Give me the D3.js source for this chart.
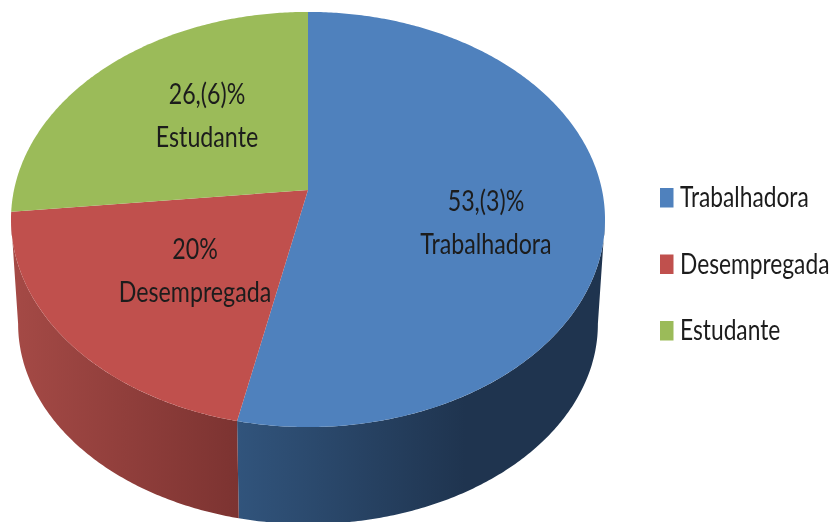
<!DOCTYPE html>
<html>
<head>
<meta charset="utf-8">
<script src="https://cdn.jsdelivr.net/npm/d3@7"></script>
<style>
  html, body { margin: 0; padding: 0; background: #fff; }
  svg { display: block; filter: blur(0.5px); }
  text { font-family: Lato, "Open Sans", sans-serif; fill: #1c1c1c; }
</style>
</head>
<body>
<div id="root"></div>
<script>
var categories = ["Trabalhadora", "Desempregada", "Estudante"];
var values = [53.33, 20, 26.67];
var valueLabels = ["53,(3)%", "20%", "26,(6)%"];
var topColors = ["#4f81bd", "#c0504d", "#9bbb59"];
var wallFrom = ["#31547c", "#a54a46", "#9bbb59"];
var wallTo = ["#1f344f", "#7c3331", "#9bbb59"];

var width = 832, height = 522;
var svg = d3.select("#root").append("svg")
    .attr("width", width)
    .attr("height", height);

// Tilted disc with perspective: the centre of the pie is not the centre of the ellipse
var cx = 308, apexY = 190, apexOffset = 29.5;
var k = 0.142;
var scaleX = 294, scaleY = 203.4;
var depth = { dy: 104.5, sx: 0.976, sy: 0.964 };

function project(angle, r, bottom) {
    var X = r * Math.sin(angle), Y = -r * Math.cos(angle);
    var w = 1 - k * Y;
    var px = X * scaleX / w, py = Y * scaleY / w;
    var centreY = apexY + apexOffset;
    py = py - apexOffset;
    if (bottom) {
        return [cx + px * depth.sx, centreY + depth.dy + py * depth.sy];
    }
    return [cx + px, centreY + py];
}

var pie = d3.pie().sort(null).value(function (d) { return d; });
var arcs = pie(values);

function arcPoints(a0, a1, bottom) {
    var steps = Math.max(2, Math.ceil(Math.abs(a1 - a0) / 0.01));
    return d3.range(steps + 1).map(function (i) {
        return project(a0 + (a1 - a0) * i / steps, 1, bottom);
    });
}

var line = d3.line();
var defs = svg.append("defs");

// Side wall is only visible between the two widest points of the ellipse
var wallStart = Math.PI / 2 + Math.asin(k);
var wallEnd = 2 * Math.PI - wallStart;

arcs.forEach(function (d, i) {
    var a0 = Math.max(d.startAngle, wallStart);
    var a1 = Math.min(d.endAngle, wallEnd);
    if (a1 <= a0) return;
    var pts = arcPoints(a0, a1, false).concat(arcPoints(a0, a1, true).reverse());
    var xs = d3.extent(pts, function (p) { return p[0]; });

    // Shade runs dark towards the blue/red seam on red, away from it on blue
    var grad = defs.append("linearGradient")
        .attr("id", "wall" + i)
        .attr("gradientUnits", "userSpaceOnUse")
        .attr("x1", i === 0 ? xs[0] : xs[1]).attr("y1", 0)
        .attr("x2", i === 0 ? xs[0] + (xs[1] - xs[0]) * 0.62 : xs[0]).attr("y2", 0);
    grad.append("stop").attr("offset", 0).attr("stop-color", i === 0 ? wallFrom[i] : wallTo[i]);
    grad.append("stop").attr("offset", 1).attr("stop-color", i === 0 ? wallTo[i] : wallFrom[i]);

    svg.append("path")
        .attr("d", line(pts) + "Z")
        .attr("fill", "url(#wall" + i + ")");
});

svg.selectAll(".slice")
    .data(arcs)
    .enter().append("path")
    .classed("slice", true)
    .attr("d", function (d) {
        return line([project(0, 0, false)].concat(arcPoints(d.startAngle, d.endAngle, false))) + "Z";
    })
    .attr("fill", function (d, i) { return topColors[i]; });

// Reference text is a condensed face, squeezed here horizontally
function placed(x, y, squeeze) {
    return "translate(" + x + "," + y + ") scale(" + squeeze + ",1)";
}

// Data labels
var labelX = [486, 195, 207];
var labelY = [211, 259, 104];
var labelGap = 43;
var labels = svg.selectAll(".label")
    .data(categories)
    .enter().append("g")
    .classed("label", true)
    .attr("text-anchor", "middle")
    .attr("font-size", 29);

labels.append("text")
    .attr("transform", function (d, i) { return placed(labelX[i], labelY[i], 0.8); })
    .text(function (d, i) { return valueLabels[i]; });

labels.append("text")
    .attr("transform", function (d, i) { return placed(labelX[i], labelY[i] + labelGap, 0.8); })
    .text(function (d) { return d; });

// Legend
var legendY = d3.scalePoint().domain(categories).range([207, 340]);
var legend = svg.selectAll(".legend")
    .data(categories)
    .enter().append("g")
    .classed("legend", true)
    .attr("transform", function (d) { return "translate(0," + legendY(d) + ")"; });

legend.append("rect")
    .attr("x", 660).attr("y", -19)
    .attr("width", 13.5).attr("height", 19.5)
    .attr("fill", function (d, i) { return topColors[i]; });

legend.append("text")
    .attr("transform", placed(680, 0, 0.785))
    .attr("font-size", 29)
    .text(function (d) { return d; });
</script>
</body>
</html>
